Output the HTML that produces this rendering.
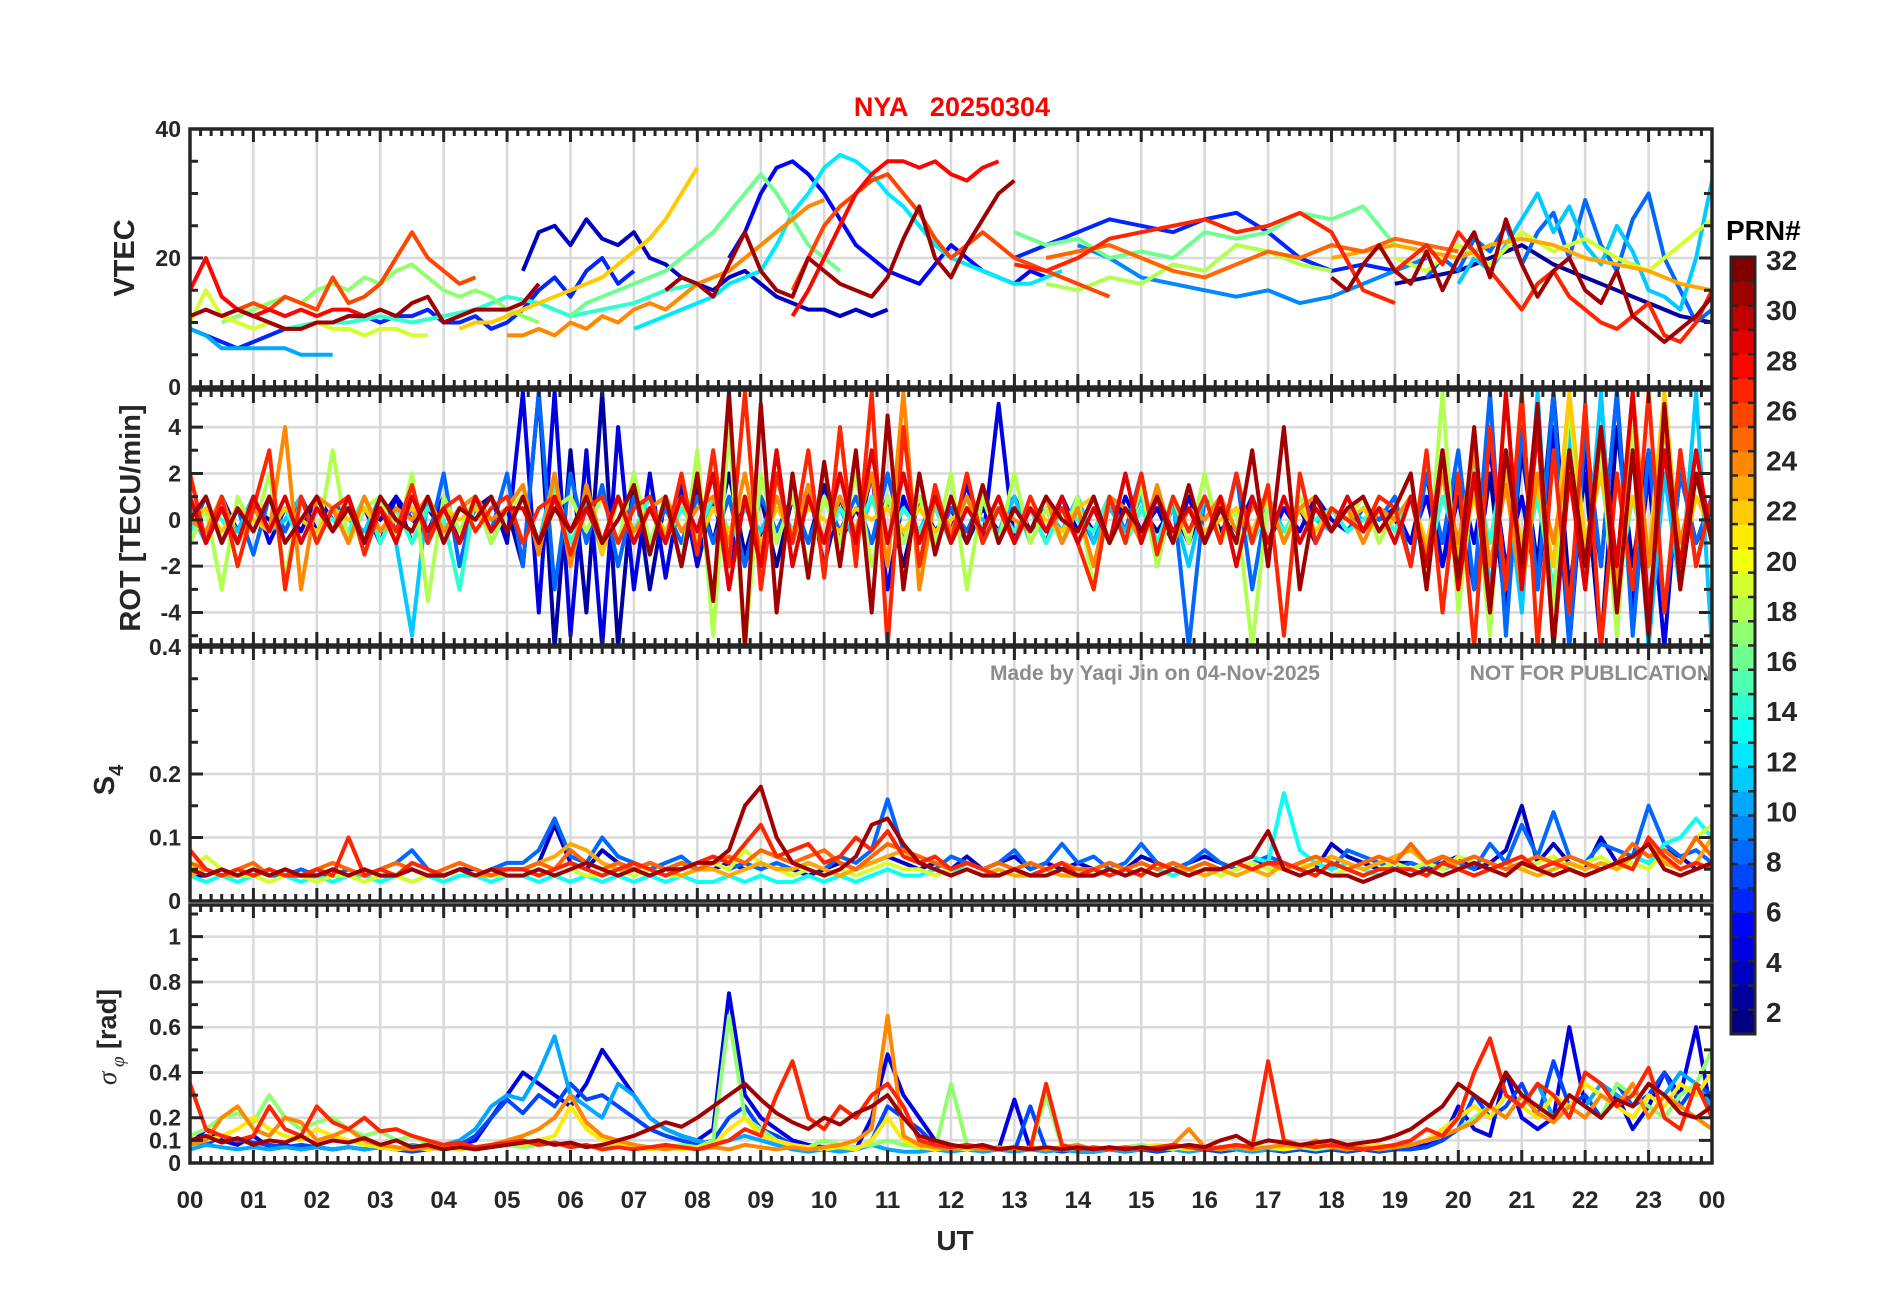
<!DOCTYPE html>
<html><head><meta charset="utf-8"><style>
html,body{margin:0;padding:0;background:#fff;}
svg{display:block;font-family:"Liberation Sans",Arial,sans-serif;font-weight:bold;}
</style></head><body>
<svg id="fig" width="1902" height="1292" viewBox="0 0 1902 1292">
<defs>
<clipPath id="c0"><rect x="190" y="129" width="1522" height="258"/></clipPath>
<clipPath id="c1"><rect x="190" y="390" width="1522" height="255"/></clipPath>
<clipPath id="c2"><rect x="190" y="647" width="1522" height="254"/></clipPath>
<clipPath id="c3"><rect x="190" y="905" width="1522" height="258"/></clipPath>
</defs>
<g id="grids"></g>
<g id="series"></g>
<g id="axes"></g>
<text x="952" y="116" text-anchor="middle" font-size="27" fill="#ff0000" xml:space="preserve">NYA   20250304</text>
<text x="990" y="680" font-size="21" fill="#8c8c8c">Made by Yaqi Jin on 04-Nov-2025</text>
<text x="1712" y="680" text-anchor="end" font-size="21" fill="#8c8c8c">NOT FOR PUBLICATION</text>
<text transform="translate(134,258) rotate(-90)" text-anchor="middle" font-size="29" fill="#262626">VTEC</text>
<text transform="translate(140,518) rotate(-90)" text-anchor="middle" font-size="29" fill="#262626">ROT [TECU/min]</text>
<text transform="translate(114,780) rotate(-90)" text-anchor="middle" font-size="29" fill="#262626">S<tspan font-size="20" dy="9">4</tspan></text>
<text transform="translate(116,1037) rotate(-90)" text-anchor="middle" font-size="27" fill="#262626"><tspan font-family="Liberation Serif,serif" font-style="italic" font-weight="normal">σ</tspan><tspan font-family="Liberation Serif,serif" font-style="italic" font-weight="normal" font-size="19" dy="8"> φ</tspan><tspan dy="-8"> [rad]</tspan></text>
<text x="955" y="1250" text-anchor="middle" font-size="28" fill="#262626">UT</text>
<text x="1726" y="240" font-size="28" fill="#000">PRN#</text>
<g id="cbar"></g>
</svg>
<script>
// ---------- data ----------
const hourTicks = ["00","01","02","03","04","05","06","07","08","09","10","11","12","13","14","15","16","17","18","19","20","21","22","23","00"];
const vtecTickVals = [0,20,40];
const rotTickVals = [-4,-2,0,2,4];
const s4TickVals = [0,0.1,0.2,0.4];
const sigTickVals = [0,0.1,0.2,0.4,0.6,0.8,1];
const sigTickLabels = ["0","0.1","0.2","0.4","0.6","0.8","1"];
const cbarTickVals = [2,4,6,8,10,12,14,16,18,20,22,24,26,28,30,32];

// VTEC series: PRN, start hour, step (h), values
const vtecPrn   = [28,26,31,17,19,6,10,3,14,22,24,16,12,5,28,31,26,6,16,25,27,18,9,31,27,8,11,19,23,2];
const vtecStart = [0,0.5,0,0.5,0,0,0,5.25,1.5,4.25,5,6,7,8.5,9.5,7.5,9.5,13,13,13.5,13,13.5,14,18,19,19.5,20,19,18,19];
const vtecStep  = [.25,.25,.25,.25,.25,.25,.25,.25,.5,.25,.25,.25,.25,.25,.25,.25,.25,.5,.5,.5,.5,.5,.5,.25,.25,.25,.25,.5,.5,.5];
const vtec00 = [15,20,14,12,11,12,11,12,11,12,12,11,12];
const vtec01 = [11,12,13,12,14,13,12,17,13,14,16,20,24,20,18,16,17];
const vtec02 = [11,12,11,12,11,10,9,9,10,10,11,11,12,11,13,14,10,11,12,12,12,13,16];
const vtec03 = [10,11,12,13,14,13,15,16,15,17,16,18,19,17,15,14,15,14,12,11,10];
const vtec04 = [10,15,11,10,9,10,9,9,10,9,9,8,9,9,8,8];
const vtec05 = [9,8,7,6,7,8,9,9,10,10,11,11,10,11,11,12,10,10,11,9,10,12,15,17,14,18,20,16,18];
const vtec06 = [9,8,6,6,6,6,6,5,5,5];
const vtec07 = [18,24,25,22,26,23,22,24,20,19,17,16,15,17,18,16,14,13,12,12,11,12,11,12];
const vtec08 = [9,10,10,11,10,11,12,14,13,11,12,13,15,16];
const vtec09 = [9,10,10,11,12,13,14,15,16,17,19,21,23,26,30,34];
const vtec10 = [8,8,9,8,10,9,11,10,12,13,12,14,16,17,18,20,22,24,26,28,29];
const vtec11 = [11,13,14,15,16,17,18,20,22,24,27,30,33,30,26,22,20,18];
const vtec12 = [9,10,11,12,13,14,16,17,18,22,27,30,34,36,35,33,30,28,25,22,20,19,18,17,16,16,17,18];
const vtec13 = [20,24,30,34,35,33,30,26,22,20,18,17,16,19,22,20,18,17,16,18,17];
const vtec14 = [11,15,20,25,30,33,35,35,34,35,33,32,34,35];
const vtec15 = [15,17,16,14,19,24,18,15,14,20,18,16,15,14,17,23,28,20,17,22,26,30,32];
const vtec16 = [15,20,25,28,30,32,33,30,27,23,20,22,24,22,20,19,18,17,16,15,14];
const vtec17 = [20,22,24,26,25,24,26,27,24,20,18,19,18];
const vtec18 = [24,22,23,20,21,20,24,23,24,27,26,28,22];
const vtec19 = [20,21,22,20,18,17,19,21,20,22,21,23,22,21];
const vtec20 = [19,18,20,23,24,25,26,24,25,27,24,15,13];
const vtec21 = [16,15,17,16,19,18,22,21,19,18];
const vtec22 = [22,20,17,16,15,14,15,13,14,16,18,20];
const vtec23 = [17,15,19,22,18,16,21,15,20,24,17,26,19,14,18,20,15,13,18,11,9,7,9,11,14];
const vtec24 = [18,20,22,19,24,21,18,15,12,16,18,14,12,10,9,11,13,8,7,10,15];
const vtec25 = [17,20,18,23,21,25,19,24,27,20,29,22,18,26,30,20,15,10,12];
const vtec26 = [16,20,18,22,26,30,24,28,22,19,25,21,15,14,12,20,32];
const vtec27 = [20,18,22,19,24,21,23,20,18,22,26];
const vtec28 = [20,21,22,21,20,22,23,22,20,19,18,16,15];
const vtec29 = [16,17,18,20,22,19,17,15,13,11,10];
const vtecVals = [vtec00,vtec01,vtec02,vtec03,vtec04,vtec05,vtec06,vtec07,vtec08,vtec09,vtec10,vtec11,vtec12,vtec13,vtec14,vtec15,vtec16,vtec17,vtec18,vtec19,vtec20,vtec21,vtec22,vtec23,vtec24,vtec25,vtec26,vtec27,vtec28,vtec29];

// ROT series: 15-min samples from 00 UT
const rotPrn = [2,4,8,11,14,18,22,24,27,29,31];
const rot02 = [0,-0.5,0.5,-1,0.5,0,-0.5,1,-0.5,0.5,-1,0.5,0,1,-1,0.5,-0.5,0.5,1,-1,0.5, -2,5.5,-5.5,3,-4,5.5,-5.5,2,-3,1,-2,1.5, -1,2,-1.5,1,-2, 1,-1,1.5,-1,0.5, -1,1,-2, 1,-0.5,0.5,-1,0.5,-0.5,1,-0.5,0.5,-1,0.5, -0.5,1,-1,0.5,-0.5,0.5,-1,1,-0.5,0.5,-1,0.5, -0.5,0.5,-1,0.5,0,-0.5,0.5,0, -1,2,-2,1,-3,2,-4,3,-2,5.5,-3,2,-5.5,4,-2,3,-4,2,-1,0.5];
const rot04 = [0.5,-1,1,-0.5,1,-1,0.5,-0.5,1,0,-0.5,0.5,-1,1,0,-0.5,1,-1,0.5,1,-1, 5.5,-4,5.5,-5,3,-5.5,4,-3,2,-2.5,1.5,-2, 1,-2,1,-1,2, -1,1.5,-2,1,-1, 2,-3,1, -1,1,-0.5,1.5,-1,5,-1,0.5,-1,1,-0.5, 1,-1,1,-0.5,0.5,-1,1,-1,0.5,-0.5,1,-1, 0.5,-0.5,1,0,-0.5,0.5,0,0.5, -1,1,-2,2,-1,3,-2,1,-3,4,-5.5,3,-2,5.5,-4,2,-5.5,3,-2,1];
const rot08 = [-0.5,1,-1,0.5,-1.5,1,-0.5,1,-1,0.5,0.5,-1,1,-0.5,0.5,-1,2,-2,1,-0.5,2, -2,5.5,-3,2,-1,1.5,-2,1,-1,0.5,-1,1, -1,1,-2,1,-0.5, 1,-1,1,-0.5,1, -1,2,-1, 1,-1,0.5,-0.5,1,-1,0.5,-0.5,1,-1,0.5, -1,1,-0.5,2,-2,1,-5.5,1,-1,2,-3,1, -1,0.5,0,0.5,-0.5,0.5,0,1, -2,2,-1,3,-3,5.5,-5,4,-3,5.5,-5.5,4,-2,5.5,-5,3,-4,2,-1,1];
const rot11 = [0.5,-1,0.5,-0.5,1,-0.5,0,1,-1,0.5,0,-0.5,1,-1,-5,1,-0.5,0.5,1,-1,0.5, 1,-1,2,-2,1,-1.5,1,-1,0.5,-0.5,1,-1, 1,-1,0.5,-0.5,1, -0.5,1,-1,0.5,-1, 1,-1,0.5, -0.5,1,-1,0.5,0,-0.5,1,-1,0.5,-0.5,1, -1,0.5,-0.5,1,-1,0.5,-2,1,-1,0.5,-0.5,1, -0.5,0.5,0,-0.5,0.5,0,0.5,0, 1,-1,2,-2,3,-3,2,-4,5.5,-5.5,4,-3,5.5,-5,4,-5.5,2,-3,5.5,-5.5];
const rot14 = [-0.5,0.5,0,-1,1,-0.5,0.5,-1,0.5,0,-0.5,1,-1,0.5,-1,0.5,0,-3,1,-0.5,0.5, 1,-1,1.5,-1,0.5,-1,1,-0.5,1,-1,0.5,-0.5, 1,-0.5,1,-1,0.5, -0.5,1,-1,0.5,-0.5, 1,-1,0.5, -0.5,0.5,-1,1,-0.5,0.5,-0.5,0.5,-1,0.5,0, -0.5,1,-1,0.5,-1,1,-0.5,1,-1,0.5,-1,0.5, -0.5,0.5,0,0.5,-0.5,0,0.5,-0.5, 1,-2,1,-1,2,-1,3,-2,1,-3,2,-1,2,-3,1,-2,3,-1,2,-1];
const rot18 = [-1,0.5,-3,1,-0.5,2,-2.5,1,-1,3,-1,0.5,1,-1,2,-3.5,1,-0.5,1,-1,0.5, 1,-1,0.5,1,-0.5,1,-1,2,-1,1,-2,3, -5,4,-5.5,2,-1, 1,-2,1,-1,2, -2,1,-1, 1,-1,2,-3,1,-1,2,-1,0.5,-1,1, -3,1,-1,1.5,-2,1,-1,2,-1,0.5,-5.5,1, -1,1,-0.5,0.5,0,1,-1,0.5, 2,-3,5.5,-4,2,-5,5.5,-3,2,-4,5,-2,3,-5,4,-2,5.5,-3,2,-1];
const rot22 = [0,0.5,-0.5,0.5,0,-0.5,0.5,0,-0.5,0.5,0,0.5,-0.5,0,0.5,-0.5,0.5,0,0.5,-0.5,0.5, 1.5,-1.5,2,-2,1.5,-1.5,1,-1,0.5,-0.5,1,-1, 0.5,-0.5,1,-1,0.5, -0.5,0.5,0,-0.5,0.5, 0,0.5,-0.5, 0.5,-0.5,0,0.5,-0.5,1,-1,0.5,0,-0.5,0.5, 1,-1,0.5,-0.5,1,-1,0.5,-0.5,0,0.5,-0.5,1, -1,0.5,-0.5,0.5,0,0.5,-0.5,0, 1,-1,2,-1.5,1,-2,2,-1,1.5,-2,5.5,-1,2,-2,1,-1.5,5.5,-2,1,-0.5];
const rot24 = [0,-0.5,1,-1,0.5,-0.5,4,-3,1,0.5,-1,1,-0.5,0.5,0,1,-0.5,0.5,1,0,0.5, 1.5,-1.5,2,-2,1.5,-1,1,-0.5,0.5,1,-0.5,0.5, 1,-1,2,-1.5,1, -1,1.5,-1,1,-0.5, 2,-2,5.5, -3,1,-0.5,1,-1,0.5,0,-0.5,1,-1,0.5, -2,1,0.5,-1,1.5,-1,0.5,0,1,-0.5,0.5,1, -1,0.5,1,-0.5,0.5,-1,0.5,0, 1,-1.5,2,-1,3,-2,1.5,-3,2,-1,3,-2,4,-3,5.5,-2,4,-1,2,-1];
const rot27 = [2,-1,1,-2,0.5,3,-3,1,-1,0.5,1,-1.5,0.5,-0.5,1.5,-1,0.5,1,-0.5,0.5,1, -1,0.5,1,-1.5,0.5,1,-1,0.5,1,-1,2,-1.5, 3,-2,5.5,-3,2, -1,3,-2.5,4,-2, 5.5,-5.5,4, -2,1.5,-1,2,-1,0.5,-1,1,-0.5,0.5,-1, -3,1,-1,2,-1.5,1,-0.5,1,-1,2,-1,1.5, -5,2,-1,0.5,0,-0.5,1,0.5, -2,3,-4,2,-5.5,4,-3,5.5,-5.5,3,-4,5,-5.5,2,-3,5.5,-4,3,-2,1];
const rot29 = [1,-1,0.5,-1,1,-0.5,1,-1,0.5,-0.5,1,-1,0.5,-1,1,-0.5,0.5,-1,1,-0.5,0.5, 0.5,-1,1,-0.5,0.5,-1,1,-1,0.5,-1,1,-0.5, 2,-3,1,-2,3, -2,1,-1,2,-1, 3,-1,2, -1,1,-1,0.5,-0.5,1,-1,0.5,-0.5,1,-1, 0.5,-1,2,-1,1,-0.5,0.5,-1,1,-2,1,-1, 1,-1,0.5,-0.5,1,-0.5,0.5,-1, 1,-2,3,-3,2,-4,5.5,-3,4,-5.5,2,-3,4,-2,5.5,-4,3,-2,3,-1];
const rot31 = [0,1,-1,0.5,-0.5,1,-1,0,1,-0.5,0.5,-1,1,0,-0.5,1,-1,0.5,0,1,-0.5, 1,-1,0.5,-0.5,1,-1,0,1.5,-1.5,1,-2,2, -3.5,5.5,-5.5,5,-4, 2,-2.5,2.5,-2,3, -4,4.5,-3, 2,-1.5,1,-1,1.5,-1,0.5,-0.5,1,0,-0.5, 1,-1,0.5,-0.5,1,-1,1.5,-1,0.5,-1,3,-2, 4,-3,1,-0.5,0.5,1,-0.5,0.5, 2,-3,3,-2.5,4,-4,3,-2,5,-5.5,3,-2,4,-4,3,-5,5,-3,2,-1];
const rotVals = [rot02,rot04,rot08,rot11,rot14,rot18,rot22,rot24,rot27,rot29,rot31];

// S4 series
const s4Prn = [3,8,13,19,23,25,27,31];
const s4p03 = [.04,.04,.05,.04,.04,.05,.04,.04,.05,.04,.04,.05,.04,.04,.05,.04,.04,.05,.05,.04,.05, .05,.06,.12,.06,.05,.08,.06,.05,.06,.05,.06,.05, .05,.06,.05,.06,.05, .05,.04,.05,.06,.05, .06,.07,.06, .05,.06,.05,.07,.05,.06,.07,.05,.06,.05,.06, .05,.06,.05,.07,.06,.05,.06,.07,.06,.05,.06,.06, .05,.06,.05,.09,.07,.06,.05,.06, .06,.05,.06,.07,.05,.06,.08,.15,.06,.09,.06,.05,.10,.06,.07,.06,.08,.07,.05,.06];
const s4p08 = [.04,.05,.04,.04,.05,.04,.04,.05,.04,.04,.05,.04,.05,.06,.08,.05,.04,.05,.04,.05,.06, .06,.08,.13,.07,.06,.10,.07,.06,.05,.06,.07,.05, .06,.05,.06,.05,.06, .05,.06,.05,.07,.06, .08,.16,.08, .06,.05,.07,.06,.05,.06,.08,.05,.06,.09,.06, .07,.05,.06,.09,.06,.05,.06,.08,.06,.05,.06,.07, .06,.05,.06,.05,.08,.07,.06,.05, .06,.05,.07,.06,.05,.09,.06,.12,.07,.14,.07,.06,.09,.08,.07,.15,.09,.07,.08,.06];
const s4p13 = [.04,.03,.04,.03,.04,.05,.04,.03,.04,.03,.04,.04,.03,.04,.03,.04,.03,.04,.04,.03,.04, .04,.03,.04,.03,.04,.03,.04,.03,.04,.03,.04,.03, .03,.04,.03,.04,.03, .03,.04,.03,.04,.03, .04,.05,.04, .04,.05,.04,.06,.05,.04,.05,.04,.05,.04,.05, .05,.04,.05,.06,.05,.04,.05,.06,.05,.06,.07,.06, .17,.08,.06,.05,.06,.05,.04,.05, .05,.06,.05,.06,.07,.06,.05,.06,.05,.06,.07,.06,.05,.06,.07,.06,.09,.10,.13,.10];
const s4p19 = [.05,.07,.05,.04,.04,.03,.04,.04,.03,.04,.04,.03,.04,.04,.03,.04,.04,.05,.04,.04,.04, .04,.05,.04,.05,.04,.04,.05,.04,.05,.04,.04,.05, .06,.05,.08,.06,.05, .04,.05,.04,.05,.04, .05,.06,.05, .05,.04,.05,.06,.05,.04,.05,.06,.05,.04,.05, .04,.05,.05,.04,.06,.05,.04,.05,.04,.05,.06,.05, .05,.06,.05,.04,.05,.04,.05,.06, .05,.06,.05,.07,.06,.05,.06,.05,.06,.07,.05,.06,.07,.05,.06,.05,.08,.06,.10,.12];
const s4p23 = [.04,.05,.04,.04,.05,.04,.05,.04,.04,.05,.04,.05,.04,.04,.05,.04,.04,.05,.04,.04,.05, .05,.06,.07,.09,.08,.06,.05,.05,.04,.05,.04,.05, .05,.04,.05,.06,.05, .05,.06,.05,.04,.05, .06,.07,.08, .06,.05,.04,.05,.04,.05,.04,.04,.05,.04,.04, .04,.05,.04,.05,.04,.05,.05,.04,.05,.04,.05,.04, .06,.05,.06,.07,.06,.05,.06,.07, .08,.06,.07,.05,.06,.05,.06,.05,.04,.05,.06,.05,.06,.05,.07,.09,.06,.05,.06,.10];
const s4p25 = [.06,.05,.04,.05,.06,.04,.05,.04,.05,.06,.05,.04,.05,.06,.05,.04,.05,.06,.05,.04,.05, .05,.06,.05,.08,.06,.05,.06,.05,.06,.05,.06,.05, .06,.07,.06,.08,.07, .06,.07,.08,.06,.05, .07,.09,.08, .07,.06,.05,.06,.05,.06,.05,.06,.05,.06,.05, .05,.06,.05,.06,.05,.06,.05,.06,.05,.06,.05,.06, .05,.06,.07,.06,.05,.06,.07,.06, .09,.06,.07,.06,.07,.06,.05,.06,.07,.06,.07,.06,.05,.06,.09,.07,.08,.06,.10,.07];
const s4p27 = [.08,.05,.04,.05,.04,.05,.04,.04,.05,.04,.10,.04,.05,.04,.06,.05,.04,.05,.04,.05,.05, .05,.04,.05,.06,.05,.04,.05,.06,.05,.04,.05,.06, .07,.06,.09,.12,.07, .08,.09,.06,.07,.10, .08,.11,.07, .06,.07,.05,.06,.05,.04,.05,.04,.05,.06,.04, .05,.04,.05,.04,.06,.05,.04,.05,.05,.06,.05,.06, .06,.05,.04,.06,.05,.04,.05,.05, .05,.04,.06,.05,.04,.05,.06,.07,.05,.06,.05,.04,.05,.06,.05,.10,.07,.05,.06,.05];
const s4p31 = [.05,.04,.05,.04,.05,.04,.05,.04,.04,.05,.04,.05,.04,.04,.05,.04,.04,.05,.04,.05,.04, .04,.05,.04,.05,.06,.05,.04,.05,.04,.05,.05,.06, .06,.08,.15,.18,.10, .06,.05,.04,.05,.07, .12,.13,.09, .06,.05,.04,.05,.04,.04,.05,.04,.04,.05,.04, .04,.05,.04,.05,.04,.05,.04,.05,.05,.06,.07,.11, .05,.04,.05,.04,.04,.03,.04,.05, .04,.05,.04,.05,.06,.05,.04,.06,.05,.04,.05,.04,.05,.06,.07,.09,.05,.04,.05,.06];
const s4Vals = [s4p03,s4p08,s4p13,s4p19,s4p23,s4p25,s4p27,s4p31];

// sigma-phi series
const sigPrn = [4,7,10,17,21,24,27,31];
const sig04 = [.08,.15,.10,.08,.12,.07,.08,.06,.07,.06,.07,.06,.07,.06,.07,.06,.07,.08,.10,.20,.30, .40,.35,.30,.25,.35,.50,.40,.30,.20,.15,.12,.10, .15,.75,.30,.20,.15, .10,.08,.07,.08,.06, .20,.48,.30, .20,.10,.08,.06,.07,.06,.28,.06,.07,.06,.05, .05,.06,.05,.06,.05,.06,.07,.06,.05,.06,.05,.06, .05,.06,.05,.06,.05,.06,.05,.06, .07,.08,.10,.25,.15,.12,.40,.20,.15,.20,.60,.25,.20,.30,.15,.25,.40,.30,.60,.20];
const sig07 = [.10,.08,.12,.10,.09,.08,.07,.08,.07,.06,.07,.06,.07,.06,.05,.06,.07,.08,.12,.20,.28, .22,.30,.25,.35,.28,.30,.25,.20,.15,.12,.10,.08, .10,.20,.25,.15,.12, .08,.07,.06,.07,.06, .10,.25,.20, .15,.08,.06,.07,.05,.06,.05,.25,.06,.05,.06, .05,.06,.05,.06,.05,.06,.05,.06,.05,.06,.05,.06, .05,.06,.05,.06,.05,.06,.05,.06, .06,.07,.10,.15,.30,.20,.25,.35,.20,.45,.25,.30,.20,.35,.25,.30,.40,.25,.35,.30];
const sig10 = [.06,.08,.07,.06,.07,.06,.07,.06,.07,.06,.07,.06,.07,.06,.08,.07,.08,.10,.15,.25,.30, .28,.40,.56,.30,.25,.20,.35,.30,.20,.15,.12,.10, .08,.10,.12,.10,.08, .06,.05,.06,.05,.06, .08,.06,.05, .05,.06,.05,.06,.05,.06,.05,.06,.05,.06,.05, .05,.06,.05,.06,.07,.06,.05,.06,.07,.06,.05,.06, .06,.07,.06,.08,.06,.07,.06,.07, .08,.10,.15,.20,.25,.20,.30,.25,.35,.20,.30,.25,.35,.30,.25,.35,.30,.40,.35,.25];
const sig17 = [.12,.15,.20,.22,.18,.30,.20,.15,.18,.20,.15,.12,.14,.10,.12,.08,.07,.08,.06,.07,.08, .07,.08,.09,.08,.07,.08,.07,.08,.06,.07,.08,.07, .10,.65,.20,.15,.10, .08,.07,.10,.08,.07, .08,.10,.08, .07,.06,.35,.08,.07,.06,.07,.06,.30,.07,.06, .07,.06,.07,.08,.07,.06,.08,.07,.06,.07,.08,.07, .06,.07,.06,.07,.08,.07,.06,.07, .08,.10,.12,.15,.20,.25,.20,.30,.25,.20,.30,.25,.20,.35,.30,.25,.20,.30,.35,.50];
const sig21 = [.08,.10,.12,.15,.20,.15,.12,.10,.15,.12,.10,.08,.07,.06,.07,.06,.07,.06,.07,.08,.10, .08,.10,.12,.25,.15,.10,.08,.07,.06,.07,.06,.07, .08,.15,.20,.12,.10, .08,.07,.06,.07,.06, .10,.20,.10, .07,.06,.07,.06,.07,.06,.07,.06,.07,.06,.07, .06,.07,.06,.07,.08,.07,.06,.07,.06,.07,.06,.07, .06,.07,.08,.07,.06,.07,.08,.07, .08,.10,.15,.20,.25,.20,.30,.25,.20,.30,.25,.35,.30,.25,.20,.30,.25,.35,.30,.40];
const sig24 = [.08,.10,.20,.25,.15,.12,.20,.18,.10,.12,.15,.10,.08,.07,.06,.07,.06,.08,.07,.08,.10, .12,.15,.20,.30,.18,.12,.10,.08,.07,.06,.07,.06, .07,.06,.08,.07,.06, .07,.06,.07,.08,.10, .15,.65,.12, .08,.07,.06,.07,.06,.07,.06,.07,.06,.07,.08, .06,.07,.06,.07,.06,.08,.15,.07,.06,.07,.06,.07, .08,.07,.10,.07,.06,.07,.06,.07, .08,.10,.12,.15,.18,.25,.20,.30,.22,.18,.25,.20,.30,.25,.35,.20,.30,.25,.20,.15];
const sig27 = [.35,.15,.12,.10,.12,.25,.15,.12,.25,.18,.15,.20,.14,.15,.12,.10,.08,.09,.07,.08,.09, .10,.08,.09,.07,.08,.06,.07,.06,.07,.08,.07,.06, .08,.10,.15,.12,.30, .45,.20,.15,.25,.20, .30,.35,.25, .10,.08,.07,.08,.07,.06,.07,.06,.35,.08,.06, .07,.06,.07,.06,.07,.08,.07,.06,.07,.08,.07,.45, .10,.08,.07,.08,.07,.06,.07,.08, .10,.15,.12,.20,.40,.55,.30,.25,.35,.30,.20,.40,.35,.25,.30,.42,.20,.15,.35,.20];
const sig31 = [.10,.12,.09,.11,.08,.10,.09,.12,.08,.10,.09,.11,.08,.10,.07,.08,.06,.07,.06,.07,.08, .09,.10,.08,.09,.07,.08,.10,.12,.15,.18,.16,.20, .25,.30,.35,.28,.22, .18,.15,.20,.17,.22, .25,.30,.20, .12,.10,.08,.07,.08,.06,.07,.06,.07,.06,.07, .06,.07,.06,.07,.06,.07,.08,.07,.10,.12,.08,.10, .09,.08,.09,.10,.08,.09,.10,.12, .15,.20,.25,.35,.30,.25,.40,.30,.25,.20,.30,.25,.20,.28,.25,.35,.30,.22,.20,.25];
const sigVals = [sig04,sig07,sig10,sig17,sig21,sig24,sig27,sig31];

// ---------- drawing ----------
const NS = "http://www.w3.org/2000/svg";
const L = 190, R = 1712;
const panels = [
  {top:129, bot:387, min:0, max:40, clip:"c0"},
  {top:390, bot:645, min:-5.4, max:5.6, clip:"c1"},
  {top:647, bot:901, min:0, max:0.4, clip:"c2"},
  {top:905, bot:1163, min:0, max:1.14, clip:"c3"}
];
function xS(t){ return L + t * (R - L) / 24; }
function yS(p, v){ return p.bot - (v - p.min) / (p.max - p.min) * (p.bot - p.top); }
function jet(prn){
  const t = (prn - 1) / 31;
  const f = x => Math.round(255 * Math.max(0, Math.min(1, x)));
  return "rgb(" + f(1.5 - Math.abs(4*t - 3)) + "," + f(1.5 - Math.abs(4*t - 2)) + "," + f(1.5 - Math.abs(4*t - 1)) + ")";
}
function mk(tag, attrs, parent){
  const e = document.createElementNS(NS, tag);
  for (const k in attrs) e.setAttribute(k, attrs[k]);
  parent.appendChild(e);
  return e;
}
const gGrid = document.getElementById("grids");
const gSer = document.getElementById("series");
const gAx = document.getElementById("axes");
const gCb = document.getElementById("cbar");

const yTicksPerPanel = [vtecTickVals, rotTickVals, s4TickVals, sigTickVals];
const minorStep = [5, 1, 0.05, 0.1];
panels.forEach((p, pi) => {
  for (let h = 1; h < 24; h++) {
    const ln = mk("line", {x1:xS(h), x2:xS(h), y1:p.top, y2:p.bot, stroke:"#d9d9d9", "stroke-width":2.5}, gGrid);
    
    
  }
  yTicksPerPanel[pi].forEach(v => {
    const y = yS(p, v);
    if (y <= p.top + 1 || y >= p.bot - 1) return;
    const ln = mk("line", {x1:L, x2:R, y1:y, y2:y, stroke:"#d9d9d9", "stroke-width":2.5}, gGrid);
    
    
  });
});

function drawSeries(p, prn, t0, dt, vals, name){
  let d = "";
  vals.forEach((v, i) => { d += (i ? "L" : "M") + xS(t0 + i*dt).toFixed(1) + "," + yS(p, v).toFixed(1); });
  const path = mk("path", {d:d, fill:"none", stroke:jet(prn), "stroke-width":4, "stroke-linejoin":"round", "clip-path":"url(#" + p.clip + ")"}, gSer);
  
  
}
vtecPrn.map((p, i) => i).sort((a, b) => vtecPrn[a] - vtecPrn[b]).forEach(i => {
  drawSeries(panels[0], vtecPrn[i], vtecStart[i], vtecStep[i], vtecVals[i], "vtec-prn" + vtecPrn[i]);
});
rotVals.forEach((vals, i) => drawSeries(panels[1], rotPrn[i], 0, 0.25, vals, "rot-prn" + rotPrn[i]));
s4Vals.forEach((vals, i) => drawSeries(panels[2], s4Prn[i], 0, 0.25, vals, "s4-prn" + s4Prn[i]));
sigVals.forEach((vals, i) => drawSeries(panels[3], sigPrn[i], 0, 0.25, vals, "sigma-phi-prn" + sigPrn[i]));

const AX = "#262626";
panels.forEach((p, pi) => {
  const box = mk("rect", {x:L, y:p.top, width:R-L, height:p.bot-p.top, fill:"none", stroke:AX, "stroke-width":3.5}, gAx);
  
  
  let d = "";
  for (let k = 0; k <= 144; k++) {
    const x = xS(k / 6);
    const len = (k % 6 === 0) ? 13 : 7;
    d += "M" + x + "," + p.top + "v" + len + "M" + x + "," + p.bot + "v-" + len;
  }
  const ms = minorStep[pi];
  for (let v = Math.ceil(p.min / ms) * ms; v <= p.max + 1e-9; v += ms) {
    const y = yS(p, v);
    const major = yTicksPerPanel[pi].some(t => Math.abs(t - v) < 1e-6);
    const len = major ? 13 : 8;
    d += "M" + L + "," + y + "h" + len + "M" + R + "," + y + "h-" + len;
  }
  const tk = mk("path", {d:d, stroke:AX, "stroke-width":3, fill:"none"}, gAx);
  
  
  const labs = pi === 3 ? sigTickLabels : yTicksPerPanel[pi].map(String);
  yTicksPerPanel[pi].forEach((v, j) => {
    const t = mk("text", {x:181, y:yS(p, v) + 8, "text-anchor":"end", "font-size":23, fill:AX}, gAx);
    t.textContent = labs[j];
    
    
  });
});
hourTicks.forEach((lab, h) => {
  const t = mk("text", {x:xS(h), y:1208, "text-anchor":"middle", "font-size":24, fill:AX}, gAx);
  t.textContent = lab;
  
  
});

const cbTop = 257, cbBot = 1034, cbX = 1731, cbW = 24;
const blk = (cbBot - cbTop) / 32;
for (let k = 1; k <= 32; k++) {
  const r = mk("rect", {x:cbX, y:cbBot - k*blk, width:cbW, height:blk + 0.5, fill:jet(k)}, gCb);
  
  
}
let cd = "";
for (let k = 1; k < 32; k++) {
  const y = cbBot - k*blk;
  cd += "M" + cbX + "," + y + "h7M" + (cbX + cbW) + "," + y + "h-7";
}
const cbt = mk("path", {d:cd, stroke:AX, "stroke-width":2.5}, gCb);


const cbf = mk("rect", {x:cbX, y:cbTop, width:cbW, height:cbBot-cbTop, fill:"none", stroke:AX, "stroke-width":3}, gCb);


cbarTickVals.forEach(v => {
  const y = 260 + (32 - v) * (1012 - 260) / 30;
  const t = mk("text", {x:1766, y:y + 10, "font-size":28, fill:AX}, gCb);
  t.textContent = String(v);
  
  
});
</script>
</body></html>
